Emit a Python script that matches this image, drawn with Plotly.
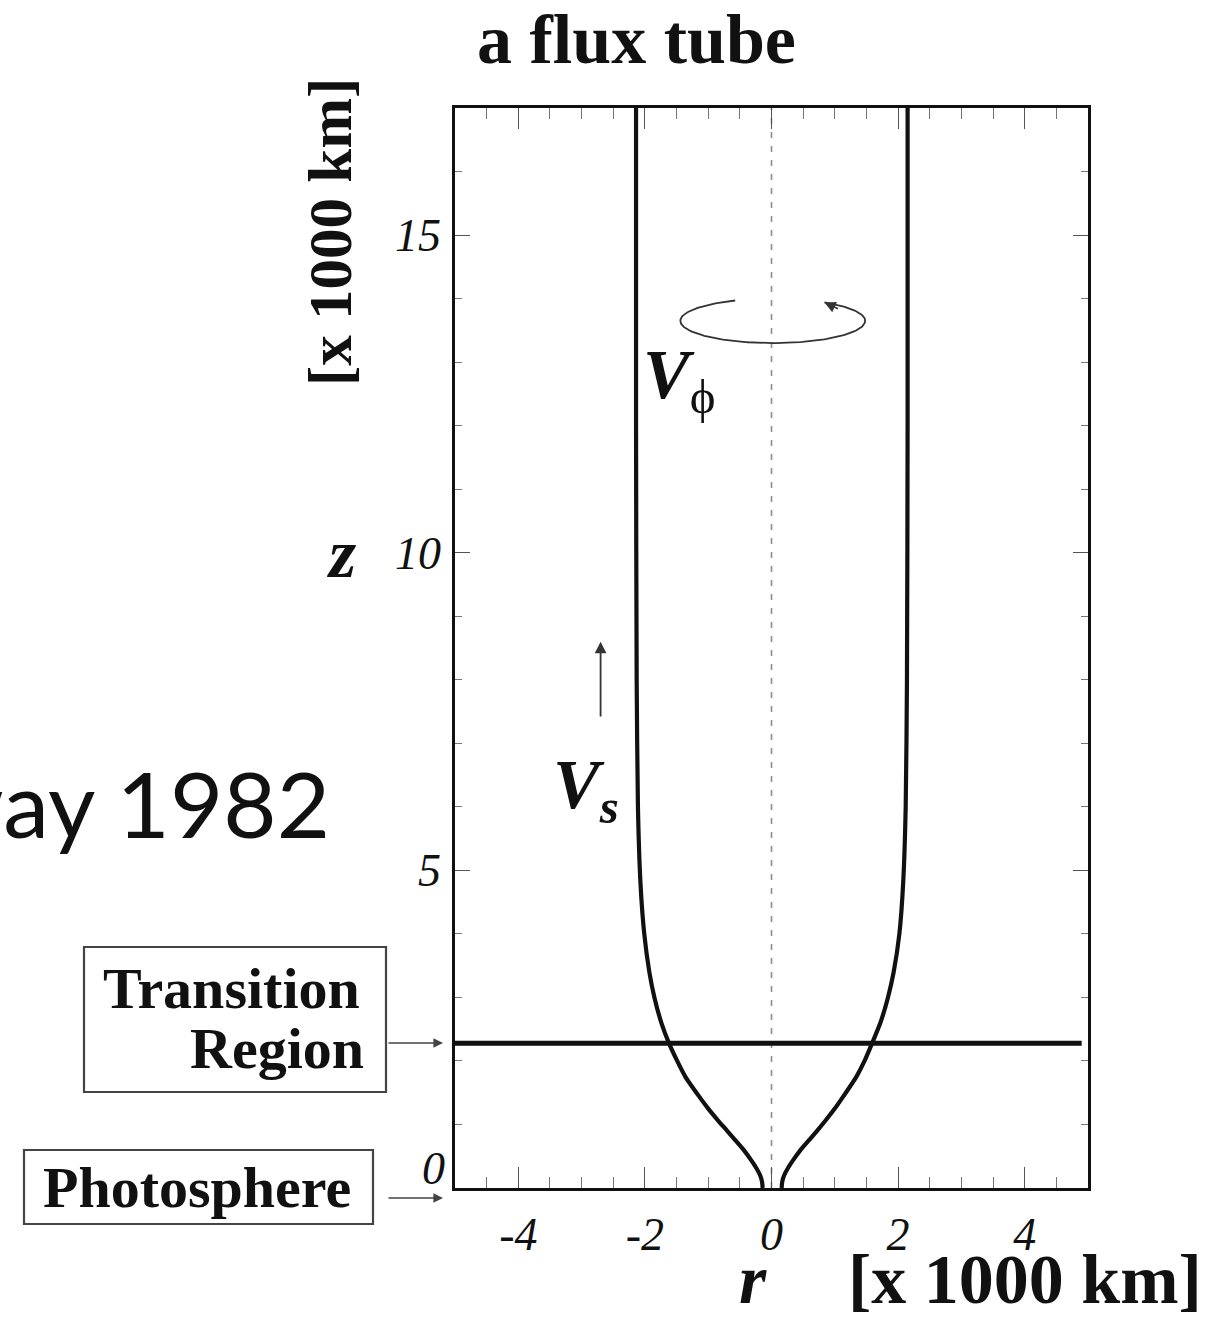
import numpy as np
import plotly.graph_objects as go

# Flux-tube boundary: height z and radius r, both in units of 1000 km
tube_z = [0.0, 0.1, 0.2, 0.33, 0.45, 0.6, 0.75, 0.9, 1.07, 1.25, 1.45, 1.75,
          2.0, 2.28, 2.6, 3.0, 3.4, 4.0, 4.8, 6.0, 8.0, 12.0, 17.0]
tube_r_left = [-0.14, -0.15, -0.18, -0.25, -0.33, -0.44, -0.57, -0.70, -0.85,
               -1.0, -1.15, -1.36, -1.49, -1.62, -1.74, -1.85, -1.93, -2.01,
               -2.07, -2.11, -2.13, -2.14, -2.14]
tube_r_right = [0.16, 0.17, 0.2, 0.27, 0.35, 0.46, 0.59, 0.72, 0.86, 1.0,
                1.14, 1.34, 1.47, 1.59, 1.72, 1.84, 1.93, 2.02, 2.08, 2.12,
                2.14, 2.15, 2.15]

# Symmetry axis of the tube
axis_r = [0.0, 0.0]
axis_z = [0.0, 17.0]

# Height of the transition region
transition_r = [-5.0, 4.9]
transition_z = [2.28, 2.28]

# Axis ticks
x_tickvals = [-4, -2, 0, 2, 4]
x_ticktext = ["-4", "-2", "0", "2", "4"]
y_tickvals = [5, 10, 15]
y_ticktext = ["5", "10", "15"]

# Plot-area edges in pixels, used to place the side labels
L, R, T, B = 455, 1088, 108, 1188


def px(xp):
    return (xp - L) / (R - L)


def py(yp):
    return (B - yp) / (B - T)


SERIF = "Liberation Serif"
INK = "#111111"

fig = go.Figure()


def label(xp, yp, text, size, xanchor="center", **kw):
    fig.add_annotation(x=px(xp), y=py(yp), xref="paper", yref="paper",
                       xanchor=xanchor, yanchor="middle", text=text,
                       showarrow=False,
                       font=dict(family=kw.pop("family", SERIF), size=size,
                                 color=INK, **kw.pop("font_extra", {})),
                       **kw)


# dashed symmetry axis
fig.add_trace(go.Scatter(x=axis_r, y=axis_z, mode="lines",
                         line=dict(color="#8c8c8c", width=1.6, dash="6px,8px"),
                         hoverinfo="skip"))
# transition-region level
fig.add_trace(go.Scatter(x=transition_r, y=transition_z, mode="lines",
                         line=dict(color=INK, width=5), hoverinfo="skip"))
# tube boundaries
for r_vals in (tube_r_left, tube_r_right):
    fig.add_trace(go.Scatter(x=r_vals, y=tube_z, mode="lines",
                             line=dict(color=INK, width=4.2, shape="spline",
                                       smoothing=0.6),
                             hoverinfo="skip"))

# rotation sketch (open ellipse with an arrow head) for V_phi
rot_cx, rot_cz, rot_a, rot_b = 0.02, 13.65, 1.46, 0.35
th = np.radians(np.linspace(114, 416, 160))
fig.add_trace(go.Scatter(x=rot_cx + rot_a * np.cos(th),
                         y=rot_cz + rot_b * np.sin(th), mode="lines",
                         line=dict(color="#333333", width=1.8),
                         hoverinfo="skip"))
end_th = np.radians(416)
fig.add_annotation(x=rot_cx + rot_a * np.cos(end_th),
                   y=rot_cz + rot_b * np.sin(end_th),
                   xref="x", yref="y", ax=15, ay=7, text="",
                   showarrow=True, arrowhead=2, arrowsize=1.4,
                   arrowwidth=1.6, arrowcolor="#333333")

# flow arrow for V_s
fig.add_annotation(x=-2.7, y=8.6, ax=-2.7, ay=7.4, xref="x", yref="y",
                   axref="x", ayref="y", text="", showarrow=True,
                   arrowhead=2, arrowsize=1.3, arrowwidth=1.8,
                   arrowcolor="#333333")

# velocity labels
label(679, 380, "<b><i>V</i></b><sub>ϕ</sub>", 70)
label(586, 790, "<b><i>V<sub>s</sub></i></b>", 70)

# title
label(636, 39, "<b>a flux tube</b>", 70)

# axis labels
label(330, 232, "<b>[x 1000 km]</b>", 61, textangle=-90)
label(341, 553, "<b><i>z</i></b>", 70)
label(753, 1279, "<b><i>r</i></b>", 70)
label(1025, 1279, "<b>[x 1000 km]</b>", 70)

# raised zero label of the height axis
label(447, 1168, "0", 46, xanchor="right",
      font_extra=dict(style="italic"))

# boxed layer names with pointers to the axis
fig.add_shape(type="rect", xref="paper", yref="paper",
              x0=px(84), x1=px(386), y0=py(1092), y1=py(947),
              line=dict(color="#444444", width=2.2), fillcolor="white")
label(362, 988, "<b>Transition</b>", 58, xanchor="right")
label(366, 1048, "<b>Region</b>", 58, xanchor="right")
fig.add_shape(type="rect", xref="paper", yref="paper",
              x0=px(24), x1=px(373), y0=py(1224), y1=py(1150),
              line=dict(color="#444444", width=2.2), fillcolor="white")
label(197, 1187, "<b>Photosphere</b>", 58)
for yp in (1043, 1198):
    fig.add_annotation(x=px(443), y=py(yp), xref="paper", yref="paper",
                       ax=-56, ay=0, text="", showarrow=True, arrowhead=2,
                       arrowsize=1.2, arrowwidth=1.6, arrowcolor="#444444")

# citation running off the left edge
label(332, 802, "Galloway 1982", 92, xanchor="right", family="Lato")

tickfont = dict(family=SERIF, size=46, color=INK, style="italic")

fig.update_layout(
    width=1227, height=1317,
    margin=dict(l=L, r=1227 - R, t=T, b=1317 - B, pad=0),
    paper_bgcolor="white", plot_bgcolor="white",
    showlegend=False,
    xaxis=dict(range=[-5, 5], tickmode="array", tickvals=x_tickvals,
               ticktext=x_ticktext, ticks="inside", ticklen=21, tickwidth=1.2,
               tickcolor="#555555",
               minor=dict(dtick=0.5, tick0=0, ticks="inside", ticklen=11,
                          tickwidth=1, tickcolor="#777777"),
               showline=True, linecolor=INK, linewidth=2.5, mirror="ticks",
               showgrid=False, zeroline=False, tickfont=tickfont,
               ticklabelstandoff=4),
    yaxis=dict(range=[0, 17], tickmode="array", tickvals=y_tickvals,
               ticktext=y_ticktext, ticks="inside", ticklen=15, tickwidth=1.2,
               tickcolor="#555555",
               minor=dict(dtick=1, tick0=0, ticks="inside", ticklen=7,
                          tickwidth=1, tickcolor="#777777"),
               showline=True, linecolor=INK, linewidth=2.5, mirror="ticks",
               showgrid=False, zeroline=False, tickfont=tickfont,
               ticklabelstandoff=2),
    yaxis2=dict(range=[0, 17], overlaying="y", anchor="x", side="left",
                tickmode="linear", tick0=0, dtick=1 / 3, ticks="outside",
                ticklen=4, tickwidth=1, tickcolor="#888888",
                showticklabels=False, showline=False, showgrid=False,
                zeroline=False),
)

fig.write_html("out.html")
